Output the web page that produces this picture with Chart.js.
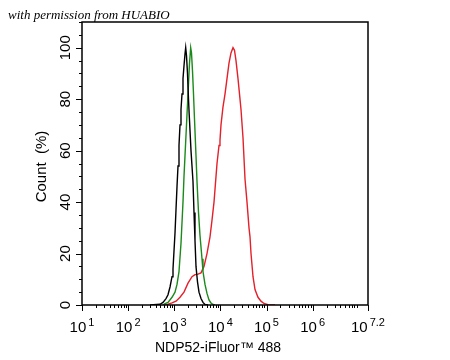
<!DOCTYPE html>
<html>
<head>
<meta charset="utf-8">
<style>
  html, body { margin: 0; padding: 0; background: #fff; }
  #wrap { width: 450px; height: 360px; }
</style>
<script src="https://cdn.jsdelivr.net/npm/chart.js@4.4.1/dist/chart.umd.min.js"></script>
</head>
<body>
<div id="wrap"><canvas id="Chart_0" width="450" height="360"></canvas></div>
<script>
"use strict";

// fluorescence intensity (x) / count % (y)
const black_X = [298, 491, 570, 662, 732, 809, 894, 939, 1038, 1091, 1147, 1206, 1267, 1332, 1400, 1472, 1547, 1626, 1709, 1770, 1842, 1936, 2036, 2110, 2306, 2548, 2679, 2816, 2960, 3190, 3438, 3799, 4198, 4639, 5389];
const black_Y = [0, 0.3, 1, 2.5, 4, 7, 11, 14, 28, 37, 46, 54, 62, 70, 76, 82, 88, 93, 97.5, 100, 97, 90, 80, 74, 60, 48, 36, 25, 15, 9, 5, 2.5, 1, 0.2, 0];

const green_X = [560, 630, 732, 894, 1038, 1147, 1267, 1400, 1547, 1626, 1709, 1842, 1986, 2141, 2271, 2364, 2486, 2613, 2750, 2960, 3112, 3354, 3614, 3994, 4198, 4639, 5127, 5660, 6250, 6918, 7637];
const green_Y = [0, 0.5, 1, 3, 5, 8, 13, 24, 40, 50, 58, 70, 82, 94, 100, 98, 91, 82, 72, 58, 48, 36, 27, 18, 13, 8, 4.5, 2, 0.8, 0.2, 0];

const red_X = [600, 732, 894, 1091, 1332, 1626, 1986, 2424, 2816, 3271, 3799, 4413, 5127, 5956, 6581, 7273, 8036, 8448, 9336, 9800, 10310, 11395, 12590, 13910, 15370, 16980, 18770, 20230, 21800, 24090, 26620, 27990, 30920, 34170, 37760, 41720, 43860, 46110, 50950, 56300, 65340, 75860, 88060, 107700, 152700];
const red_Y = [0, 0.3, 0.8, 1.5, 3, 5, 8.5, 11, 11.8, 12, 12.5, 15, 20, 26.5, 33, 40, 50, 55, 62, 64, 70, 77, 82, 88, 94, 98, 100, 99, 95, 88, 80, 76, 65, 49, 40, 30, 26.5, 20, 11, 6, 3, 1.5, 0.6, 0.1, 0];

// axis ticks
const x_Exp = [1, 2, 3, 4, 5, 6, 7.2];
const x_Sup = ['1', '2', '3', '4', '5', '6', '7.2'];
const y_Ticks = [0, 20, 40, 60, 80, 100];

function toPts(xs, ys) { return xs.map((v, i) => ({ x: v, y: ys[i] })); }

const axis_Draw = {
  id: 'axis_Draw',
  afterDatasetsDraw(chart) {
    const { ctx, chartArea: a, scales: { x, y } } = chart;
    ctx.save();
    ctx.strokeStyle = '#000';
    ctx.fillStyle = '#000';

    // box
    ctx.lineWidth = 1.5;
    ctx.strokeRect(a.left, a.top, a.right - a.left, a.bottom - a.top);

    // x ticks (major + log minors)
    ctx.lineWidth = 1;
    ctx.beginPath();
    x_Exp.forEach(e => {
      const px = Math.round(x.getPixelForValue(Math.pow(10, e))) + 0.5;
      ctx.moveTo(px, a.bottom); ctx.lineTo(px, a.bottom + 6);
    });
    for (let d = 1; d <= 7; d++) {
      for (let m = 2; m <= 9; m++) {
        const v = m * Math.pow(10, d);
        if (v > x.max) break;
        const px = Math.round(x.getPixelForValue(v)) + 0.5;
        ctx.moveTo(px, a.bottom); ctx.lineTo(px, a.bottom + 3);
      }
    }
    // y ticks
    for (let v = 0; v <= 110; v += 5) {
      const py = Math.round(y.getPixelForValue(v)) + 0.5;
      const len = (v % 20 === 0 && v <= 100) ? 6 : 3;
      ctx.moveTo(a.left, py); ctx.lineTo(a.left - len, py);
    }
    ctx.stroke();

    // x tick labels 10^n
    ctx.textBaseline = 'alphabetic';
    ctx.textAlign = 'left';
    x_Exp.forEach((e, i) => {
      const px = x.getPixelForValue(Math.pow(10, e));
      ctx.font = '15px "Liberation Sans", Arial, sans-serif';
      const w1 = ctx.measureText('10').width;
      ctx.font = '11px "Liberation Sans", Arial, sans-serif';
      const w2 = ctx.measureText(x_Sup[i]).width;
      const x0 = px - (w1 + 2 + w2) / 2;
      ctx.font = '15px "Liberation Sans", Arial, sans-serif';
      ctx.fillText('10', x0, 332);
      ctx.font = '11px "Liberation Sans", Arial, sans-serif';
      ctx.fillText(x_Sup[i], x0 + w1 + 2, 326);
    });

    // y tick labels (rotated)
    ctx.font = '15px "Liberation Sans", Arial, sans-serif';
    ctx.textAlign = 'center';
    y_Ticks.forEach(v => {
      const py = y.getPixelForValue(v);
      ctx.save();
      ctx.translate(70, py);
      ctx.rotate(-Math.PI / 2);
      ctx.fillText(String(v), 0, 0);
      ctx.restore();
    });

    // axis titles
    ctx.font = '15px "Liberation Sans", Arial, sans-serif';
    ctx.save();
    ctx.translate(46, (a.top + a.bottom) / 2 + 3);
    ctx.rotate(-Math.PI / 2);
    ctx.fillText('Count  (%)', 0, 0);
    ctx.restore();

    ctx.font = '14px "Liberation Sans", Arial, sans-serif';
    ctx.fillText('NDP52-iFluor\u2122 488', 218, 352);

    // watermark
    ctx.textAlign = 'left';
    ctx.font = 'italic 13px "Liberation Serif", "DejaVu Serif", serif';
    ctx.fillText('with permission from HUABIO', 8, 19);

    ctx.restore();
  }
};

const ctx = document.getElementById('Chart_0');
const lineStyle = { fill: false, pointRadius: 0, borderWidth: 1.4, tension: 0 };

new Chart(ctx, {
  type: 'line',
  data: {
    datasets: [
      Object.assign({ label: 'black', data: toPts(black_X, black_Y), borderColor: '#000000' }, lineStyle),
      Object.assign({ label: 'green', data: toPts(green_X, green_Y), borderColor: '#1b8a1b' }, lineStyle),
      Object.assign({ label: 'red', data: toPts(red_X, red_Y), borderColor: '#e5202a' }, lineStyle)
    ]
  },
  options: {
    responsive: false,
    animation: false,
    devicePixelRatio: 1,
    layout: { padding: { left: 82, right: 82, top: 22, bottom: 55 } },
    plugins: { legend: { display: false }, tooltip: { enabled: false } },
    scales: {
      x: { type: 'logarithmic', min: 10, max: Math.pow(10, 7.2), display: false },
      y: { type: 'linear', min: 0, max: 110, display: false }
    }
  },
  plugins: [axis_Draw]
});
</script>
</body>
</html>
